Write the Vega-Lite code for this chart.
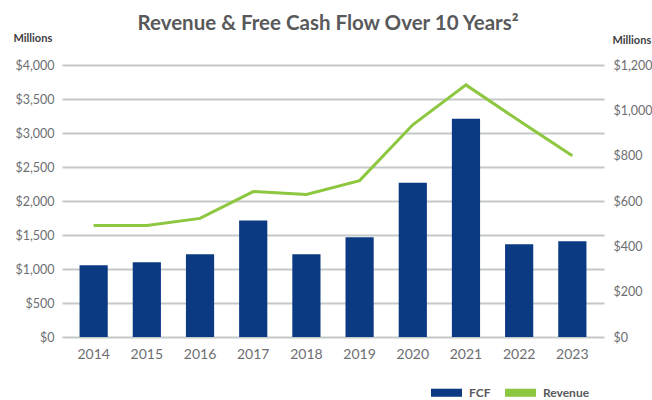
{
  "$schema": "https://vega.github.io/schema/vega-lite/v6.json",
  "width": 542,
  "height": 272,
  "autosize": {"type": "none"},
  "padding": {"left": 62, "top": 65, "right": 48, "bottom": 63},
  "config": {
    "view": {"stroke": null},
    "font": "Lato",
    "axis": {"labelFont": "Lato", "titleFont": "Lato"}
  },
  "title": {
    "text": "Revenue & Free Cash Flow Over 10 Years²",
    "fontSize": 20.5,
    "fontWeight": "bold",
    "color": "#58595b",
    "anchor": "middle",
    "frame": "group",
    "offset": -2,
    "dx": -5
  },
  "data": {
    "values": [
      {"year": "2014", "series": "FCF", "value": 316},
      {"year": "2015", "series": "FCF", "value": 330},
      {"year": "2016", "series": "FCF", "value": 365},
      {"year": "2017", "series": "FCF", "value": 514},
      {"year": "2018", "series": "FCF", "value": 365},
      {"year": "2019", "series": "FCF", "value": 440},
      {"year": "2020", "series": "FCF", "value": 681},
      {"year": "2021", "series": "FCF", "value": 963},
      {"year": "2022", "series": "FCF", "value": 409},
      {"year": "2023", "series": "FCF", "value": 422},
      {"year": "2014", "series": "Revenue", "value": 1641},
      {"year": "2015", "series": "Revenue", "value": 1641},
      {"year": "2016", "series": "Revenue", "value": 1744},
      {"year": "2017", "series": "Revenue", "value": 2139},
      {"year": "2018", "series": "Revenue", "value": 2095},
      {"year": "2019", "series": "Revenue", "value": 2300},
      {"year": "2020", "series": "Revenue", "value": 3121},
      {"year": "2021", "series": "Revenue", "value": 3707},
      {"year": "2022", "series": "Revenue", "value": 3180},
      {"year": "2023", "series": "Revenue", "value": 2667}
    ]
  },
  "encoding": {
    "x": {
      "field": "year",
      "type": "ordinal",
      "scale": {"paddingInner": 0.47, "paddingOuter": 0.33},
      "axis": {
        "title": null,
        "labelAngle": 0,
        "labelFontSize": 14,
        "labelColor": "#6d6e71",
        "ticks": false,
        "domain": false,
        "labelPadding": 10
      }
    }
  },
  "layer": [
    {
      "transform": [{"filter": "datum.series === 'FCF'"}],
      "mark": {"type": "bar", "color": "#0b3a82"},
      "encoding": {
        "y": {
          "field": "value",
          "type": "quantitative",
          "scale": {"domain": [0, 1200]},
          "axis": {
            "orient": "right",
            "values": [0, 200, 400, 600, 800, 1000, 1200],
            "format": "$,.0f",
            "grid": false,
            "domain": false,
            "ticks": false,
            "labelPadding": 9,
            "labelFontSize": 12.5,
            "labelColor": "#6d6e71",
            "title": "Millions",
            "titleAngle": 0,
            "titleAlign": "left",
            "titleBaseline": "middle",
            "titleX": 8,
            "titleY": -25,
            "titleFontSize": 11,
            "titleFontWeight": "bold",
            "titleColor": "#414042"
          }
        },
        "color": {
          "field": "series",
          "type": "nominal",
          "scale": {"domain": ["FCF", "Revenue"], "range": ["#0b3a82", "#8dc63f"]},
          "legend": {
            "title": null,
            "orient": "none",
            "direction": "horizontal",
            "legendX": 369,
            "legendY": 312,
            "padding": 0,
            "symbolType": "M-1,-0.26H1V0.26H-1Z",
            "symbolSize": 961,
            "symbolStrokeWidth": 0,
            "symbolOpacity": 1,
            "labelOffset": 7,
            "columnPadding": 14,
            "labelFontSize": 12,
            "labelFontWeight": "bold",
            "labelColor": "#58595b",
            "labelFont": "Lato"
          }
        }
      }
    },
    {
      "transform": [{"filter": "datum.series === 'Revenue'"}],
      "mark": {"type": "line", "color": "#8dc63f", "strokeWidth": 3},
      "encoding": {
        "y": {
          "field": "value",
          "type": "quantitative",
          "scale": {"domain": [0, 4000]},
          "axis": {
            "orient": "left",
            "values": [0, 500, 1000, 1500, 2000, 2500, 3000, 3500, 4000],
            "format": "$,.0f",
            "grid": true,
            "gridColor": "#c5c8c8",
            "gridWidth": 2,
            "domain": false,
            "ticks": false,
            "labelPadding": 8,
            "labelFontSize": 12.5,
            "labelColor": "#6d6e71",
            "title": "Millions",
            "titleAngle": 0,
            "titleAlign": "left",
            "titleBaseline": "middle",
            "titleX": -49,
            "titleY": -27,
            "titleFontSize": 11,
            "titleFontWeight": "bold",
            "titleColor": "#414042"
          }
        }
      }
    }
  ],
  "resolve": {"scale": {"y": "independent"}}
}
